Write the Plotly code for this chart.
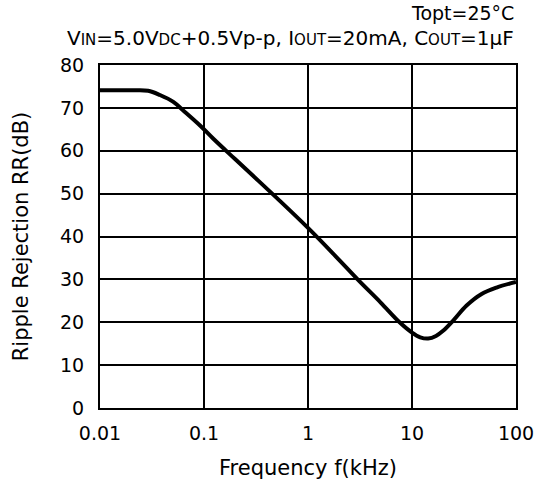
import plotly.graph_objects as go

freq_khz = [0.01, 0.02, 0.029, 0.0377, 0.0507, 0.0632, 0.0916, 0.123, 0.2, 0.5, 1, 2, 3, 5, 7.6, 10, 12, 14.3, 17, 19.9, 24.9, 33.5, 46.7, 65, 100]
rr_db = [74.1, 74.1, 74.0, 73.0, 71.4, 69.4, 65.9, 62.8, 58.0, 49.0, 42.0, 34.5, 30.0, 24.6, 20.0, 17.6, 16.5, 16.2, 16.8, 18.0, 20.4, 23.9, 26.6, 28.1, 29.4]

x_ticks = [0.01, 0.1, 1, 10, 100]
x_tick_labels = ["0.01", "0.1", "1", "10", "100"]
y_ticks = [0, 10, 20, 30, 40, 50, 60, 70, 80]

font = "DejaVu Sans, Verdana, sans-serif"

fig = go.Figure()
fig.add_trace(go.Scatter(x=freq_khz, y=rr_db, mode="lines",
                         line=dict(color="black", width=4, shape="spline", smoothing=1.0),
                         showlegend=False, hoverinfo="skip"))

axis_common = dict(showgrid=True, gridcolor="black", gridwidth=2,
                   showline=True, linecolor="black", linewidth=2, mirror=True,
                   ticks="", zeroline=False, automargin=False,
                   tickfont=dict(family=font, size=19, color="black"))

fig.update_layout(
    width=537, height=490,
    margin=dict(l=100, r=21, t=65, b=82),
    paper_bgcolor="white", plot_bgcolor="white",
    xaxis=dict(type="log", range=[-2, 2], tickvals=x_ticks, ticktext=x_tick_labels,
               ticklabelstandoff=7,
               title=dict(text="Frequency f(kHz)", font=dict(family=font, size=21, color="black"), standoff=18),
               **axis_common),
    yaxis=dict(range=[0, 80], tickvals=y_ticks, ticklabelstandoff=10,
               title=dict(text="Ripple Rejection RR(dB)", font=dict(family=font, size=21, color="black"), standoff=26),
               **axis_common),
    annotations=[
        dict(text="Topt=25°C", xref="paper", yref="paper", x=1, y=1, xanchor="right", yanchor="middle",
             yshift=52, showarrow=False, font=dict(family=font, size=19, color="black")),
        dict(text="V<span style='font-size:15px'>IN</span>=5.0V<span style='font-size:15px'>DC</span>+0.5Vp-p, I<span style='font-size:15px'>OUT</span>=20mA, C<span style='font-size:15px'>OUT</span>=1μF",
             xref="paper", yref="paper", x=1, y=1, xanchor="right", yanchor="middle",
             yshift=27, showarrow=False, font=dict(family=font, size=20, color="black")),
    ],
)

# remove the default 8px page margin so the figure fills the 537x490 window exactly
fig.write_html("out.html", config={"displayModeBar": False},
               post_script="document.body.style.margin='0px';")
